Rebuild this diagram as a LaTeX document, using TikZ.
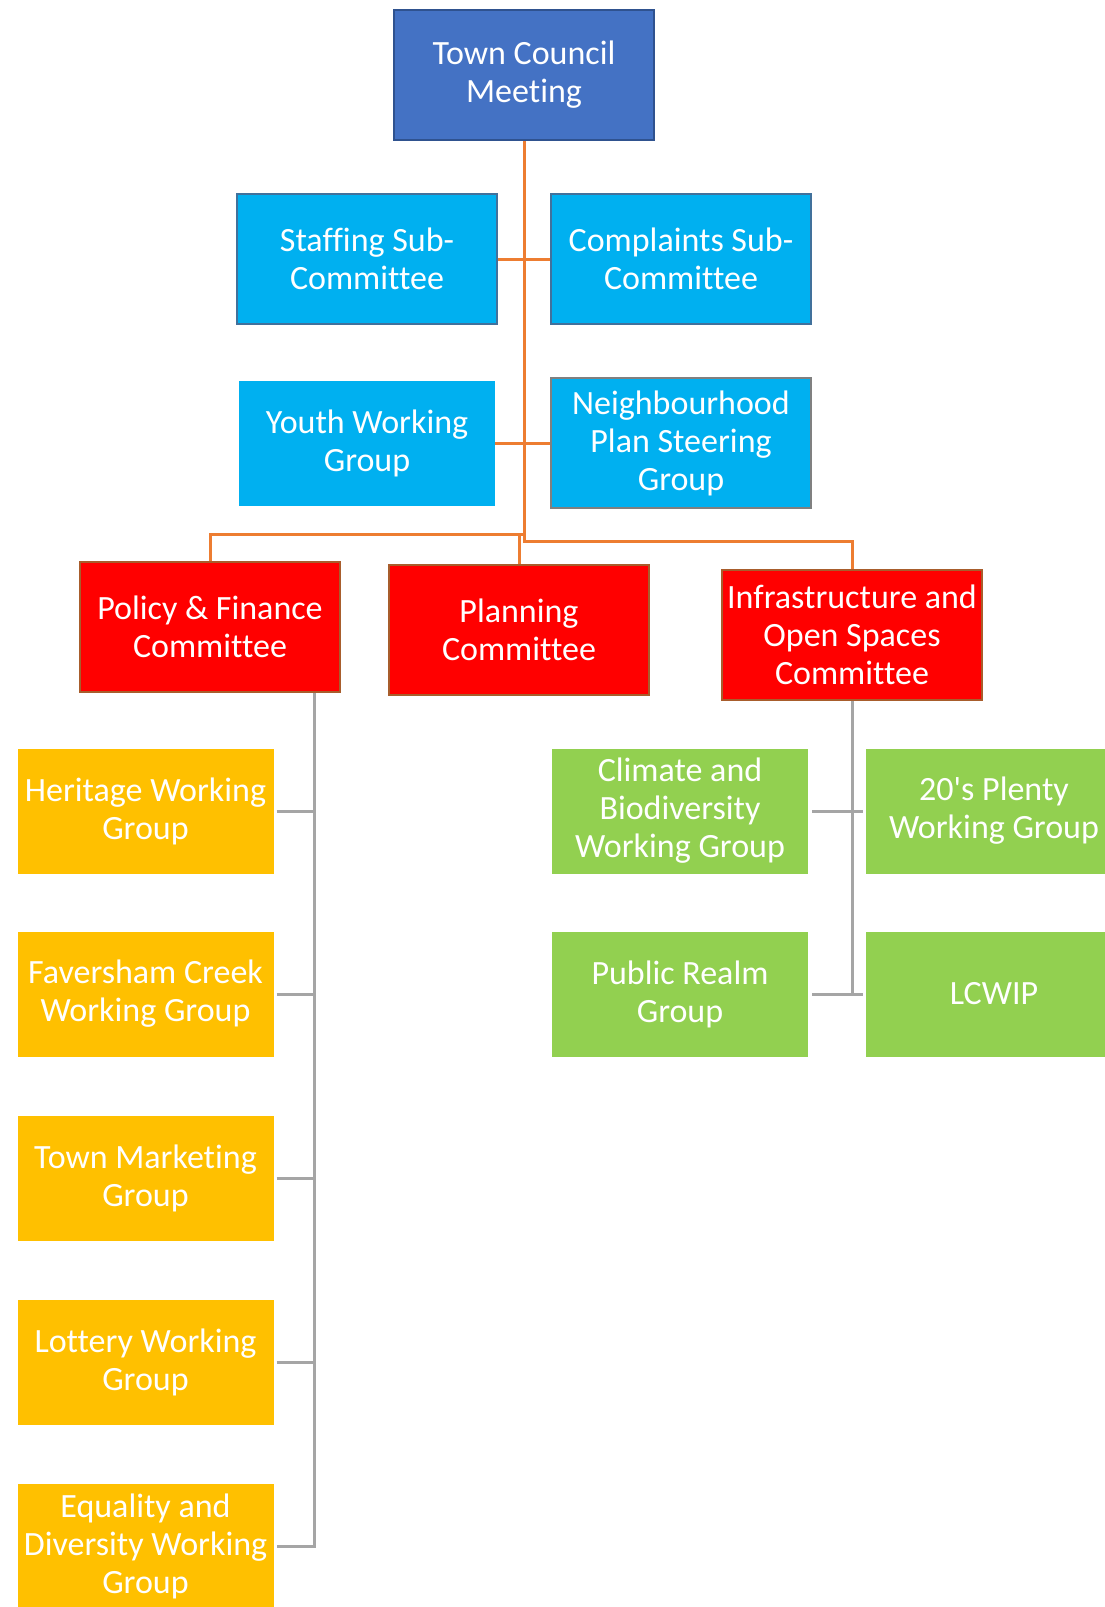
\documentclass[tikz,border=0pt]{standalone}
\usepackage{fontspec}
\setmainfont{Carlito}[Ligatures={NoCommon}]
\usetikzlibrary{positioning}

\definecolor{tcblue}{HTML}{4472C4}
\definecolor{tcedge}{HTML}{2F528F}
\definecolor{subblue}{HTML}{00B0F0}
\definecolor{subedge}{HTML}{41719C}
\definecolor{cmtred}{HTML}{FF0000}
\definecolor{cmtedge}{HTML}{A85D2C}
\definecolor{linkorange}{HTML}{ED7D31}
\definecolor{wgyellow}{HTML}{FFC000}
\definecolor{wggreen}{HTML}{92D050}
\definecolor{linkgray}{HTML}{A5A5A5}

\tikzset{every node/.style={rectangle,inner sep=0pt,align=center,text=white,
    font=\fontsize{34}{38}\selectfont}}
\tikzstyle{bigbox}=[minimum width=260pt,minimum height=130pt,line width=2.5pt]
\tikzstyle{smallbox}=[minimum width=256pt,minimum height=125pt]
\tikzstyle{topbox}=[bigbox,fill=tcblue,draw=tcedge]
\tikzstyle{subbox}=[bigbox,fill=subblue,draw=subedge]
\tikzstyle{cmtbox}=[bigbox,fill=cmtred,draw=cmtedge]
\tikzstyle{yellowbox}=[smallbox,fill=wgyellow]
\tikzstyle{greenbox}=[smallbox,fill=wggreen]
\tikzstyle{orangelink}=[draw=linkorange,line width=3pt]
\tikzstyle{graylink}=[draw=linkgray,line width=3pt]

\begin{document}
\begin{tikzpicture}[x=1pt,y=-1pt]
            \useasboundingbox [fill=white] (0,0) rectangle (1104,1607);
            % top and sub-committees
            \node [topbox] (tcm) at (524,75) {Town Council\\Meeting};
            \node [subbox] (staff) at (367,259) {Staffing Sub-\\Committee};
            \node [subbox] (compl) at (681,259) {Complaints Sub-\\Committee};
            \node [smallbox,fill=subblue] (youth) at (367,443) {Youth Working\\Group};
            \node [subbox,draw=gray] (neigh) at (681,443) {Neighbourhood\\Plan Steering\\Group};
            % committees
            \node [cmtbox] (policy) at (210,627) {Policy \& Finance\\Committee};
            \node [cmtbox] (plan) at (519,630) {Planning\\Committee};
            \node [cmtbox] (infra) at (852,635) {Infrastructure and\\Open Spaces\\Committee};
            % working groups
            \node [yellowbox] (herit) at (145.5,811) {Heritage Working\\Group};
            \node [yellowbox] (creek) at (145.5,994) {Faversham Creek\\Working Group};
            \node [yellowbox] (market) at (145.5,1178) {Town Marketing\\Group};
            \node [yellowbox] (lottery) at (145.5,1362) {Lottery Working\\Group};
            \node [yellowbox] (equal) at (145.5,1546) {Equality and\\Diversity Working\\Group};
            \node [greenbox] (climate) at (680,811) {Climate and\\Biodiversity\\Working Group};
            \node [greenbox] (plenty) at (994,811) {20\textquotesingle s Plenty\\Working Group};
            \node [greenbox] (realm) at (680,994) {Public Realm\\Group};
            \node [greenbox] (lcwip) at (994,994) {LCWIP};

            % orange links
            \coordinate (busA) at (524,534);
            \coordinate (busB) at (524,541);
            \draw [orangelink] (tcm) -- (busB) -| (infra);
            \draw [orangelink] (busA) -| (policy);
            \draw [orangelink] (plan) -- (plan.north |- busA);
            \draw [orangelink] (staff) -- (compl);
            \draw [orangelink] (youth) -- (neigh);

            % gray links
            \coordinate (pfspine) at ([xshift=104pt]policy.south);
            \draw [graylink] (pfspine) |- ([xshift=3pt]equal.east);
            \foreach \wg in {herit,creek,market,lottery}
                \draw [graylink] ([xshift=3pt]\wg.east) -- (\wg.east -| pfspine);
            \draw [graylink] (infra) -- (infra.south |- lcwip);
            \draw [graylink] ([xshift=4pt]climate.east) -- ([xshift=-3pt]plenty.west);
            \draw [graylink] ([xshift=4pt]realm.east) -- ([xshift=-3pt]lcwip.west);
        \end{tikzpicture}
\end{document}
